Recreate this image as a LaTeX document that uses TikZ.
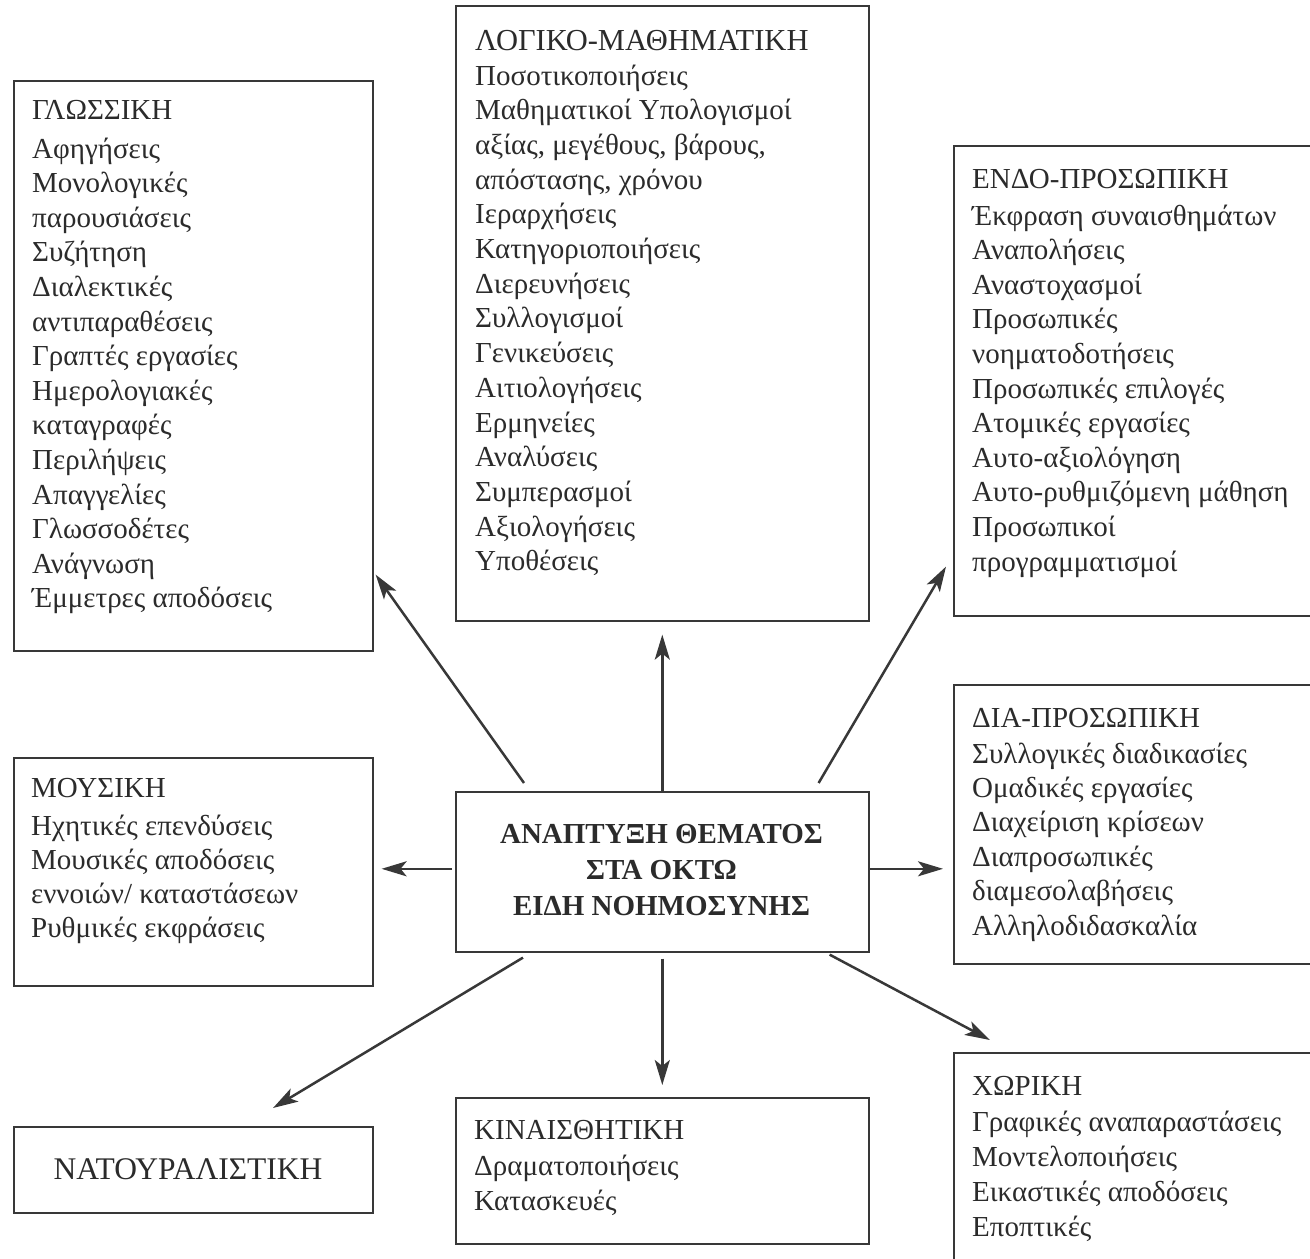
\documentclass[tikz,border=0pt]{standalone}
\usepackage{fontspec}
\setmainfont{Liberation Serif}
\usetikzlibrary{arrows.meta,calc}
\definecolor{ink}{HTML}{2B2B2B}
\definecolor{edge}{HTML}{383838}
\begin{document}
\begin{tikzpicture}[x=1pt,y=-1pt,
  bx/.style={draw=edge,line width=1.6pt,fill=white,anchor=north west,inner sep=0pt},
  ln/.style={anchor=base west,inner sep=0pt,text=ink,font=\fontsize{29pt}{34pt}\selectfont},
  cln/.style={anchor=base,inner sep=0pt,text=ink,font=\fontsize{29pt}{34pt}\selectfont\bfseries},
  arr/.style={draw=edge,line width=2.5pt,-{Stealth[length=25pt,width=15pt,inset=6pt]}}]
\clip (0,0) rectangle (1310,1259);
\fill[white] (0,0) rectangle (1310,1259);
% boxes
\node[bx,minimum width=359pt,minimum height=570pt] (glo) at (13,80) {};
\node[bx,minimum width=413pt,minimum height=615pt] (log) at (455,5) {};
\node[bx,minimum width=380pt,minimum height=470pt] (endo) at (953,145) {};
\node[bx,minimum width=380pt,minimum height=279pt] (dia) at (953,684) {};
\node[bx,minimum width=359pt,minimum height=228pt] (mus) at (13,757) {};
\node[bx,minimum width=413pt,minimum height=160pt] (cen) at (455,791) {};
\node[bx,minimum width=413pt,minimum height=146pt] (kin) at (455,1097) {};
\node[bx,minimum width=380pt,minimum height=230pt] (xor) at (953,1052) {};
\node[bx,minimum width=359pt,minimum height=86pt] (nat) at (13,1126) {};
% texts
\node[ln] (glo-t) at (32,119) {ΓΛΩΣΣΙΚΗ};
\foreach \t [count=\i] in {Αφηγήσεις,Μονολογικές,παρουσιάσεις,Συζήτηση,Διαλεκτικές,αντιπαραθέσεις,Γραπτές εργασίες,Ημερολογιακές,καταγραφές,Περιλήψεις,Απαγγελίες,Γλωσσοδέτες,Ανάγνωση,Έμμετρες αποδόσεις}
  \node[ln] (glo-\i) at (32,{158+34.6*(\i-1)}) {\t};
\node[ln,font=\fontsize{30.5pt}{34pt}\selectfont] (log-t) at (475,50) {ΛΟΓΙΚΟ-ΜΑΘΗΜΑΤΙΚΗ};
\foreach \t [count=\i] in {Ποσοτικοποιήσεις,Μαθηματικοί Υπολογισμοί,{αξίας, μεγέθους, βάρους,},{απόστασης, χρόνου},Ιεραρχήσεις,Κατηγοριοποιήσεις,Διερευνήσεις,Συλλογισμοί,Γενικεύσεις,Αιτιολογήσεις,Ερμηνείες,Αναλύσεις,Συμπερασμοί,Αξιολογήσεις,Υποθέσεις}
  \node[ln] (log-\i) at (475,{85+34.7*(\i-1)}) {\t};
\node[ln] (endo-t) at (972,188) {ΕΝΔΟ-ΠΡΟΣΩΠΙΚΗ};
\foreach \t [count=\i] in {Έκφραση συναισθημάτων,Αναπολήσεις,Αναστοχασμοί,Προσωπικές,νοηματοδοτήσεις,Προσωπικές επιλογές,Ατομικές εργασίες,Αυτο-αξιολόγηση,Αυτο-ρυθμιζόμενη μάθηση,Προσωπικοί,προγραμματισμοί}
  \node[ln] (endo-\i) at (972,{225+34.6*(\i-1)}) {\t};
\node[ln] (dia-t) at (972,727) {ΔΙΑ-ΠΡΟΣΩΠΙΚΗ};
\foreach \t [count=\i] in {Συλλογικές διαδικασίες,Ομαδικές εργασίες,Διαχείριση κρίσεων,Διαπροσωπικές,διαμεσολαβήσεις,Αλληλοδιδασκαλία}
  \node[ln] (dia-\i) at (972,{763+34.4*(\i-1)}) {\t};
\node[ln] (mus-t) at (31,797) {ΜΟΥΣΙΚΗ};
\foreach \t [count=\i] in {Ηχητικές επενδύσεις,Μουσικές αποδόσεις,εννοιών/ καταστάσεων,Ρυθμικές εκφράσεις}
  \node[ln] (mus-\i) at (31,{835+34.3*(\i-1)}) {\t};
\node[cln] (cen-1) at (661.5,843) {ΑΝΑΠΤΥΞΗ ΘΕΜΑΤΟΣ};
\node[cln] (cen-2) at (661.5,879) {ΣΤΑ ΟΚΤΩ};
\node[cln] (cen-3) at (661.5,915) {ΕΙΔΗ ΝΟΗΜΟΣΥΝΗΣ};
\node[ln] (kin-t) at (474,1139) {ΚΙΝΑΙΣΘΗΤΙΚΗ};
\foreach \t [count=\i] in {Δραματοποιήσεις,Κατασκευές}
  \node[ln] (kin-\i) at (474,{1175+35*(\i-1)}) {\t};
\node[ln] (xor-t) at (972,1095) {ΧΩΡΙΚΗ};
\foreach \t [count=\i] in {Γραφικές αναπαραστάσεις,Μοντελοποιήσεις,Εικαστικές αποδόσεις,Εποπτικές}
  \node[ln] (xor-\i) at (972,{1131+35*(\i-1)}) {\t};
\node[cln,font=\fontsize{31.5pt}{34pt}\selectfont] (nat-t) at (188,1179) {ΝΑΤΟΥΡΑΛΙΣΤΙΚΗ};
% arrows
\draw[arr] (cen.north) -- ($(log.south)+(0,13)$);
\draw[arr] ($(cen.north west)+(69,-8)$) -- ($(glo.south east)+(2,-77)$);
\draw[arr] ($(cen.north east)+(-51,-8)$) -- ($(endo.south west)+(-7,-50)$);
\draw[arr] ($(cen.west)+(-3,-3)$) -- ($(mus.east)+(8,-3)$);
\draw[arr] ($(cen.east)+(0,-3)$) -- ($(cen.east -| dia.west)+(-10,-3)$);
\draw[arr] ($(cen.south)+(0,6)$) -- ($(kin.north)+(0,-12)$);
\draw[arr] ($(cen.south west)+(68,5)$) -- ($(nat.north west)+(260,-18)$);
\draw[arr] ($(cen.south east)+(-40,2)$) -- ($(xor.north west)+(37,-12)$);
\end{tikzpicture}
\end{document}
